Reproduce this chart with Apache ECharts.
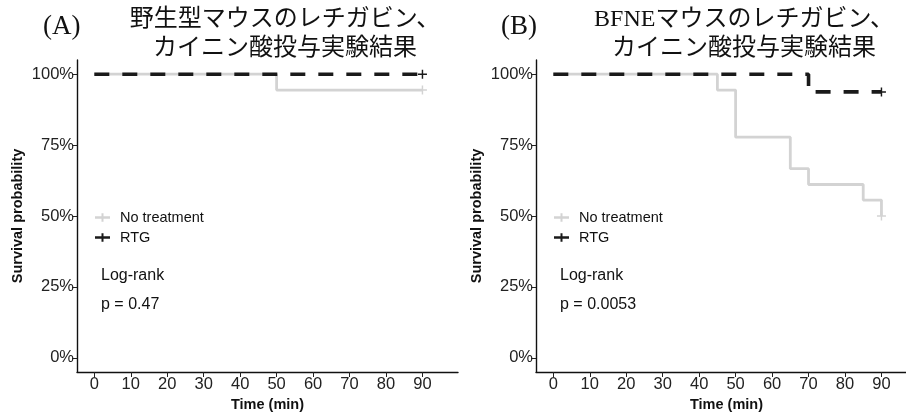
<!DOCTYPE html>
<html>
<head>
<meta charset="utf-8">
<script src="https://cdn.jsdelivr.net/npm/echarts@6/dist/echarts.min.js"></script>
<style>
html,body{margin:0;padding:0;background:#fff;}
#chart{width:906px;height:412px;}
</style>
</head>
<body>
<div id="chart"></div>
<script>
// ---- data ----
const seriesNames = ['No treatment', 'RTG'];
const xTicks = [0, 10, 20, 30, 40, 50, 60, 70, 80, 90];
const yTicks = [0, 0.25, 0.5, 0.75, 1];
// Panel A (wild type)
const timesA_none = [0, 50, 90];
const survA_none  = [1, 0.944, 0.944];
const timesA_rtg  = [0, 90];
const survA_rtg   = [1, 1];
// Panel B (BFNE)
const timesB_none = [0, 45, 50, 65, 70, 85, 90];
const survB_none  = [1, 0.944, 0.778, 0.667, 0.611, 0.556, 0.5];
const timesB_rtg  = [0, 70, 90];
const survB_rtg   = [1, 0.9375, 0.9375];
const pValues = ['0.47', '0.0053'];
const panelLabels = ['(A)', '(B)'];
const titleLine1 = ['野生型マウスのレチガビン、', 'BFNEマウスのレチガビン、'];
const titleLine2 = ['カイニン酸投与実験結果', 'カイニン酸投与実験結果'];

// ---- styles ----
const GRAY = '#d3d3d3';
const BLACK = '#1a1a1a';
const SANS = "'Liberation Sans', Arial, sans-serif";
const SERIF = "'Liberation Serif', 'Noto Sans CJK JP', serif";
const PLUS = 'path://M4.2,0h1.6v10h-1.6z M0,4.2h10v1.6h-10z';
const LEGEND_ICON = 'path://M0,3h15v2.6h-15z M6.5,0h2v8.6h-2z';

const chart = echarts.init(document.getElementById('chart'), null, {renderer: 'canvas'});

function buildData(times, surv) {
  return times.map((t, i) => {
    const item = {value: [t, surv[i]]};
    if (i === times.length - 1) {
      item.symbol = PLUS;
      item.symbolSize = 9;
    }
    return item;
  });
}

const gridLefts = [77, 536];
const grids = gridLefts.map(l => ({left: l, top: 60, width: 381, height: 312,
  containLabel: false, outerBoundsMode: 'none'}));

function xAxis(i) {
  return {
    type: 'value', gridIndex: i, min: -4.75, max: 99.75,
    name: 'Time (min)', nameLocation: 'middle', nameGap: 23,
    nameTextStyle: {fontFamily: SANS, fontWeight: 'bold', fontSize: 14.5, color: '#111'},
    axisLine: {show: true, onZero: false, lineStyle: {color: '#111', width: 1.4}},
    axisTick: {show: true, length: 5, customValues: xTicks, lineStyle: {color: '#222', width: 1}},
    axisLabel: {customValues: xTicks, fontFamily: SANS, fontSize: 16.5, color: '#222', margin: 4},
    splitLine: {show: false}
  };
}
function yAxis(i) {
  return {
    type: 'value', gridIndex: i, min: -0.05, max: 1.05,
    name: 'Survival probability', nameLocation: 'middle', nameGap: 52, nameRotate: 90,
    nameTextStyle: {fontFamily: SANS, fontWeight: 'bold', fontSize: 14.5, color: '#111'},
    axisLine: {show: true, onZero: false, lineStyle: {color: '#111', width: 1.4}},
    axisTick: {show: true, length: 5, customValues: yTicks, lineStyle: {color: '#222', width: 1}},
    axisLabel: {customValues: yTicks, fontFamily: SANS, fontSize: 16.5, color: '#222', margin: 3,
      formatter: v => Math.round(v * 100) + '%'},
    splitLine: {show: false}
  };
}

function kmSeries(name, times, surv, idx, color, dashed) {
  return {
    name: name, type: 'line', step: 'end', xAxisIndex: idx, yAxisIndex: idx,
    data: buildData(times, surv),
    symbol: 'none', showSymbol: true, showAllSymbol: true,
    itemStyle: {color: color, borderWidth: 0},
    lineStyle: dashed ? {color: color, width: 3.6, type: [15, 13]} : {color: color, width: 2.8},
    emphasis: {disabled: true},
    z: dashed ? 3 : 2,
    silent: true
  };
}

const titles = [];
[0, 1].forEach(i => {
  const off = i === 0 ? 0 : 459;
  titles.push({text: panelLabels[i], left: (i === 0 ? 43 : 501), top: 13, padding: 0,
    textStyle: {fontFamily: "'Liberation Serif', serif", fontSize: 27, fontWeight: 'normal', color: '#111'}});
  titles.push({text: titleLine1[i], left: 285 + off, top: 8, padding: 0, textAlign: 'center',
    textStyle: {fontFamily: SERIF, fontSize: 24, fontWeight: 'normal', color: '#111'}});
  titles.push({text: titleLine2[i], left: 285 + off, top: 37, padding: 0, textAlign: 'center',
    textStyle: {fontFamily: SERIF, fontSize: 24, fontWeight: 'normal', color: '#111'}});
  titles.push({text: 'Log-rank', left: gridLefts[i] + 24, top: 268, padding: 0,
    textStyle: {fontFamily: SANS, fontSize: 16, fontWeight: 'normal', color: '#111'}});
  titles.push({text: 'p = ' + pValues[i], left: gridLefts[i] + 24, top: 297, padding: 0,
    textStyle: {fontFamily: SANS, fontSize: 16, fontWeight: 'normal', color: '#111'}});
});

const legends = gridLefts.map(l => ({
  data: seriesNames, orient: 'vertical', left: l + 18, top: 210, padding: 0,
  icon: LEGEND_ICON, itemWidth: 15, itemHeight: 8.6, itemGap: 5,
  selectedMode: false,
  textStyle: {fontFamily: SANS, fontSize: 14.5, color: '#111', lineHeight: 15, padding: [0, 0, 0, 5]}
}));

chart.setOption({
  animation: false,
  backgroundColor: '#fff',
  title: titles,
  legend: legends,
  grid: grids,
  xAxis: [xAxis(0), xAxis(1)],
  yAxis: [yAxis(0), yAxis(1)],
  series: [
    kmSeries(seriesNames[0], timesA_none, survA_none, 0, GRAY, false),
    kmSeries(seriesNames[1], timesA_rtg, survA_rtg, 0, BLACK, true),
    kmSeries(seriesNames[0], timesB_none, survB_none, 1, GRAY, false),
    kmSeries(seriesNames[1], timesB_rtg, survB_rtg, 1, BLACK, true)
  ]
});
</script>
</body>
</html>
